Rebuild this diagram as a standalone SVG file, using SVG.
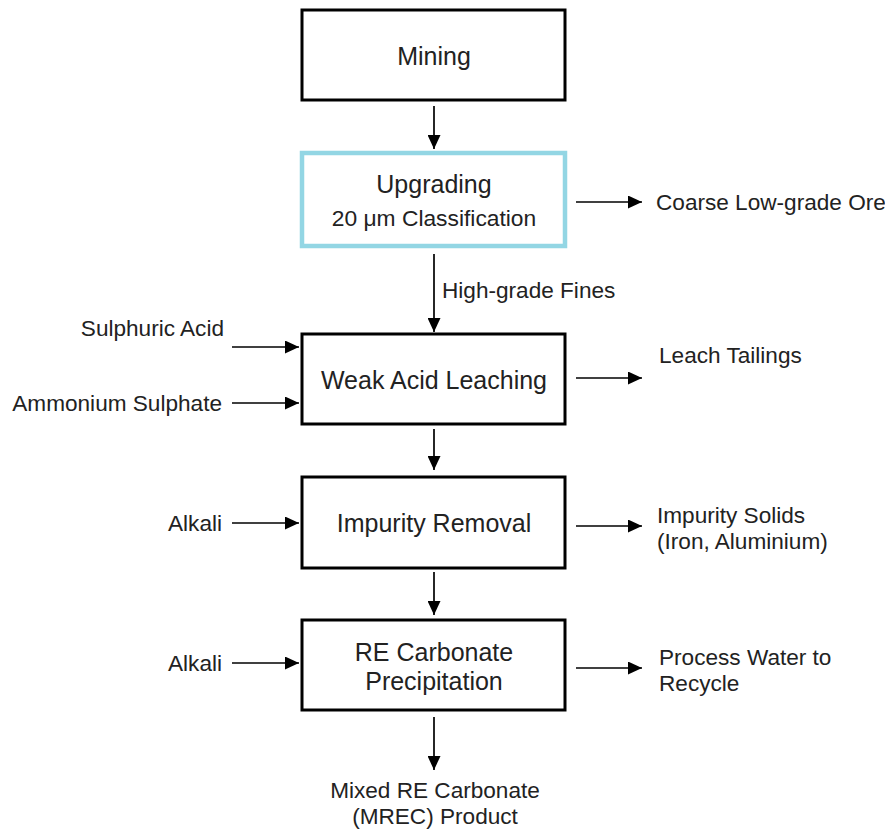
<svg xmlns="http://www.w3.org/2000/svg" width="885" height="829" viewBox="0 0 885 829">
<style>
.box{fill:#fff;stroke:#000;stroke-width:3}
.cyan{fill:#fff;stroke:#93d6e4;stroke-width:4.5}
.bt{font-family:"Liberation Sans",Arial,sans-serif;font-size:25px;fill:#222;text-anchor:middle;dominant-baseline:central}
.st{font-family:"Liberation Sans",Arial,sans-serif;font-size:22.6px;fill:#222;dominant-baseline:central}
.r{text-anchor:end}
.m{text-anchor:middle}
.c line{stroke:#000;stroke-width:1.7;marker-end:url(#ah)}
</style>
<defs>
<marker id="ah" markerUnits="userSpaceOnUse" markerWidth="15" markerHeight="13" refX="14" refY="6.5" orient="auto">
<path d="M0,0 L14,6.5 L0,13 Z" fill="#000"/>
</marker>
</defs>
<g class="c" id="connectors">
<line x1="434" y1="106" x2="434" y2="149"/>
<line x1="576" y1="202" x2="642" y2="202"/>
<line x1="434" y1="254" x2="434" y2="332"/>
<line x1="232" y1="347" x2="299" y2="347"/>
<line x1="232" y1="403" x2="299" y2="403"/>
<line x1="576" y1="378" x2="642" y2="378"/>
<line x1="434" y1="429" x2="434" y2="470"/>
<line x1="232" y1="523" x2="299" y2="523"/>
<line x1="576" y1="526" x2="642" y2="526"/>
<line x1="434" y1="572" x2="434" y2="615"/>
<line x1="232" y1="663" x2="299" y2="663"/>
<line x1="576" y1="668" x2="642" y2="668"/>
<line x1="434" y1="717" x2="434" y2="770"/>
</g>
<g id="mining"><rect class="box" x="302" y="10" width="263" height="90"/><text class="bt" x="434" y="56">Mining</text></g>
<g id="upgrading"><rect class="cyan" x="302" y="153" width="263" height="93"/><text class="bt" x="434" y="184">Upgrading</text><text class="bt" x="434" y="218" style="font-size:22.8px">20 μm Classification</text></g>
<g id="leaching"><rect class="box" x="302" y="334" width="263" height="90"/><text class="bt" x="434" y="380">Weak Acid Leaching</text></g>
<g id="impurity"><rect class="box" x="302" y="477" width="263" height="91"/><text class="bt" x="434" y="523">Impurity Removal</text></g>
<g id="precip"><rect class="box" x="302" y="620" width="263" height="90"/><text class="bt" x="434" y="652">RE Carbonate</text><text class="bt" x="434" y="681">Precipitation</text></g>
<g id="labels">
<text class="st" x="656" y="202">Coarse Low-grade Ore</text>
<text class="st" x="442" y="290">High-grade Fines</text>
<text class="st r" x="224" y="328">Sulphuric Acid</text>
<text class="st r" x="222" y="403">Ammonium Sulphate</text>
<text class="st" x="659" y="355">Leach Tailings</text>
<text class="st r" x="222" y="523">Alkali</text>
<text class="st" x="657" y="515">Impurity Solids</text>
<text class="st" x="657" y="541">(Iron, Aluminium)</text>
<text class="st r" x="222" y="663">Alkali</text>
<text class="st" x="659" y="657">Process Water to</text>
<text class="st" x="659" y="683">Recycle</text>
<text class="st m" x="435" y="790">Mixed RE Carbonate</text>
<text class="st m" x="435" y="816">(MREC) Product</text>
</g>
</svg>
